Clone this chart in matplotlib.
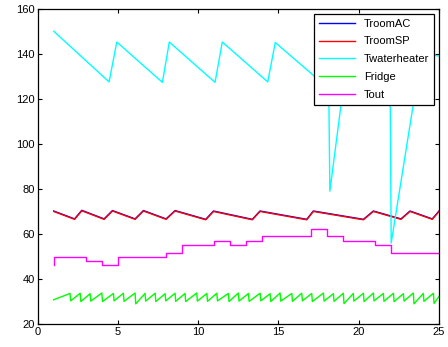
import numpy as np
import matplotlib.pyplot as plt

# room temperature (AC measured / setpoint)
troom_x = [1, 2.3, 2.75, 4.14, 4.66, 6.07, 6.59, 8.0, 8.56, 10.47, 10.95,
           13.37, 13.85, 16.76, 17.17, 20.29, 20.91, 22.63, 23.19, 24.58, 25]
troom_sp = [70.0, 66.5, 70.3, 66.5, 70.2, 66.5, 70.2, 66.5, 70.2, 66.3, 70.0,
            66.3, 70.0, 66.3, 70.0, 66.3, 70.0, 66.5, 70.0, 66.5, 70.0]
troom_ac = [70.2, 66.7, 70.5, 66.7, 70.4, 66.7, 70.4, 66.7, 70.4, 66.5, 70.2,
            66.5, 70.2, 66.5, 70.2, 66.5, 70.2, 66.7, 70.2, 66.7, 70.2]

# water heater temperature
wh_x = [1, 4.45, 4.93, 7.77, 8.2, 11.05, 11.5, 14.33, 14.8, 17.65, 18.1,
        18.2, 19.4, 21.95, 22.02, 23.9, 25]
wh_y = [150, 127.5, 145.2, 127.3, 145.2, 127.3, 145.2, 127.5, 145, 127.5, 145,
        79, 145, 130, 56, 140, 139]

# fridge: compressor switch-off times, peak and trough temperatures
fr_drop = [2.02, 2.65, 3.27, 4.0, 4.72, 5.34, 6.07, 6.69, 7.32, 7.94, 8.56,
           9.18, 9.91, 10.54, 11.16, 11.88, 12.5, 13.13, 13.86, 14.48, 15.1,
           15.83, 16.45, 17.07, 17.8, 18.42, 19.04, 19.66, 20.29, 20.91,
           21.53, 22.16, 22.78, 23.4, 24.02, 24.65]
fr_peak = [33.6, 33.7, 33.5, 33.8, 33.6, 33.7, 33.8, 33.6, 33.7, 33.5, 33.7,
           33.6, 33.8, 33.6, 33.7, 33.6, 33.8, 33.6, 33.7, 33.5, 33.8, 33.6,
           33.7, 33.6, 33.8, 33.5, 33.7, 33.6, 33.7, 33.8, 33.6, 33.7, 33.5,
           33.8, 33.6, 33.7]
fr_trough = [30.3, 30.0, 30.2, 30.0, 30.3, 30.1, 29.0, 30.2, 30.0, 30.3, 30.1,
             30.0, 30.2, 30.1, 30.3, 30.0, 30.2, 30.1, 30.3, 30.0, 30.2, 30.1,
             30.3, 30.0, 30.2, 30.1, 29.1, 30.2, 30.0, 30.3, 30.1, 30.0, 30.2,
             29.0, 30.1, 29.2]
fr_start = 30.8
fr_end = 32.3

# outdoor temperature, stepwise
tout_x = [1, 1.01, 3, 4, 5, 8, 9, 11, 12, 13, 14, 17, 18, 19, 21, 22, 25]
tout_y = [46.1, 49.8, 48.0, 46.1, 49.8, 51.6, 55.2, 56.8, 55.2, 56.8, 58.9,
          62.4, 58.9, 56.8, 55.2, 51.6, 51.6]

fr_x = [1]
fr_y = [fr_start]
for d, p, t in zip(fr_drop, fr_peak, fr_trough):
    fr_x += [d, d + 0.04]
    fr_y += [p, t]
fr_x.append(25)
fr_y.append(fr_end)

plt.rcParams['font.family'] = ['Liberation Sans', 'DejaVu Sans']
fig = plt.figure(figsize=(4.48, 3.47), dpi=100)
ax = fig.add_axes([0.084, 0.066, 0.896, 0.909])

lw = 1.0
ax.plot(troom_x, troom_ac, color=(0, 0, 1), lw=lw, label='TroomAC')
ax.plot(troom_x, troom_sp, color=(1, 0, 0), lw=lw, label='TroomSP')
ax.plot(wh_x, wh_y, color=(0, 1, 1), lw=lw, label='Twaterheater')
ax.plot(fr_x, fr_y, color=(0, 1, 0), lw=lw, label='Fridge')
ax.step(tout_x, tout_y, where='post', color=(1, 0, 1), lw=lw, label='Tout')

ax.set_xlim(0, 25)
ax.set_ylim(20, 160)
ax.set_xticks(np.arange(0, 26, 5))
ax.set_yticks(np.arange(20, 161, 20))
ax.tick_params(direction='in', top=True, right=True, labelsize=8,
               length=3, width=0.8, pad=2)
for s in ax.spines.values():
    s.set_linewidth(0.9)

leg = ax.legend(loc='upper right', fontsize=8, fancybox=False,
                framealpha=1, edgecolor='black', handlelength=3.2,
                borderaxespad=0.45, labelspacing=0.7, borderpad=0.45)
leg.get_frame().set_linewidth(0.9)

fig.savefig('out.png', dpi=100)
